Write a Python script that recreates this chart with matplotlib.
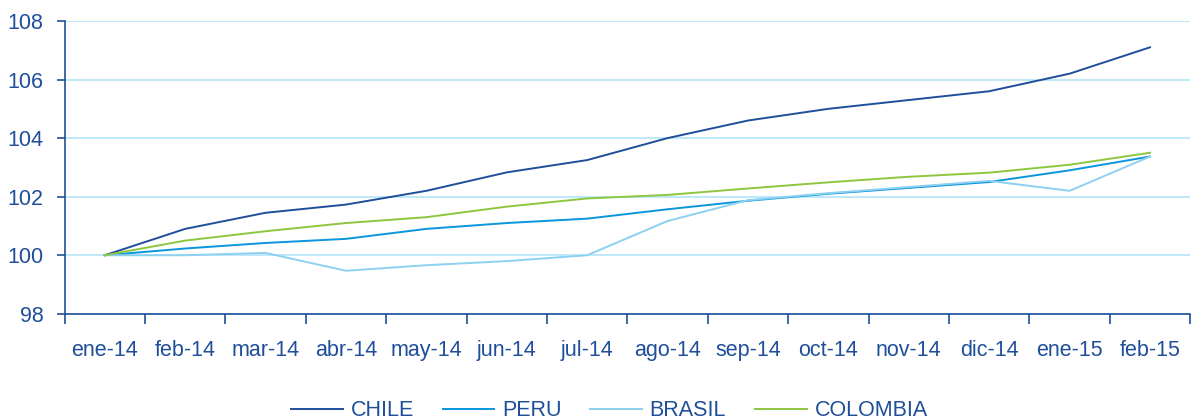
import numpy as np
import matplotlib.pyplot as plt

months = ['ene-14', 'feb-14', 'mar-14', 'abr-14', 'may-14', 'jun-14', 'jul-14',
          'ago-14', 'sep-14', 'oct-14', 'nov-14', 'dic-14', 'ene-15', 'feb-15']

chile = [100.0, 100.9, 101.45, 101.73, 102.2, 102.83, 103.25,
         104.0, 104.6, 105.0, 105.3, 105.6, 106.2, 107.1]
peru = [100.0, 100.23, 100.42, 100.56, 100.9, 101.1, 101.25,
        101.57, 101.86, 102.1, 102.3, 102.5, 102.9, 103.37]
brasil = [100.0, 100.0, 100.08, 99.47, 99.66, 99.8, 100.0,
          101.17, 101.88, 102.12, 102.33, 102.54, 102.2, 103.37]
colombia = [100.0, 100.5, 100.82, 101.1, 101.3, 101.66, 101.94,
            102.06, 102.28, 102.49, 102.68, 102.82, 103.09, 103.5]

text_col = '#1F4E9A'
plt.rcParams['font.family'] = ['Liberation Sans', 'DejaVu Sans']

fig = plt.figure(figsize=(11.95, 4.19), dpi=100)
ax = fig.add_axes([0.054, 0.251, 0.942, 0.699])

x = np.arange(len(months))
ax.plot(x, chile, color='#1F4E9A', lw=1.4, label='CHILE')
ax.plot(x, peru, color='#0A96DC', lw=1.4, label='PERU')
ax.plot(x, brasil, color='#8ED0F0', lw=1.4, label='BRASIL')
ax.plot(x, colombia, color='#8DC63F', lw=1.4, label='COLOMBIA')

ax.set_xlim(-0.5, len(months) - 0.5)
ax.set_ylim(98, 108)
ax.set_yticks(np.arange(98, 109, 2))
ax.yaxis.grid(True, color='#B3E5F8', lw=1.2)
ax.set_axisbelow(True)

ax.set_xticks(x)
ax.set_xticklabels(months)
ax.set_xticks(np.arange(-0.5, len(months), 1), minor=True)
ax.tick_params(axis='x', which='major', length=0, pad=19, labelsize=15.5, labelcolor=text_col)
ax.tick_params(axis='x', which='minor', length=7, width=1.2, color=text_col, direction='out')
ax.tick_params(axis='y', length=6, width=1.2, color=text_col, labelsize=15.5, labelcolor=text_col, pad=9)

for s in ['top', 'right']:
    ax.spines[s].set_visible(False)
for s in ['left', 'bottom']:
    ax.spines[s].set_color(text_col)
    ax.spines[s].set_linewidth(1.2)

leg = fig.legend(loc='center', bbox_to_anchor=(0.51, 0.02), ncol=4, frameon=False,
                 fontsize=15.5, handlelength=2.4, columnspacing=1.35, handletextpad=0.35,
                 borderpad=0.2)
for t in leg.get_texts():
    t.set_color(text_col)

fig.savefig('out.png', dpi=100)
